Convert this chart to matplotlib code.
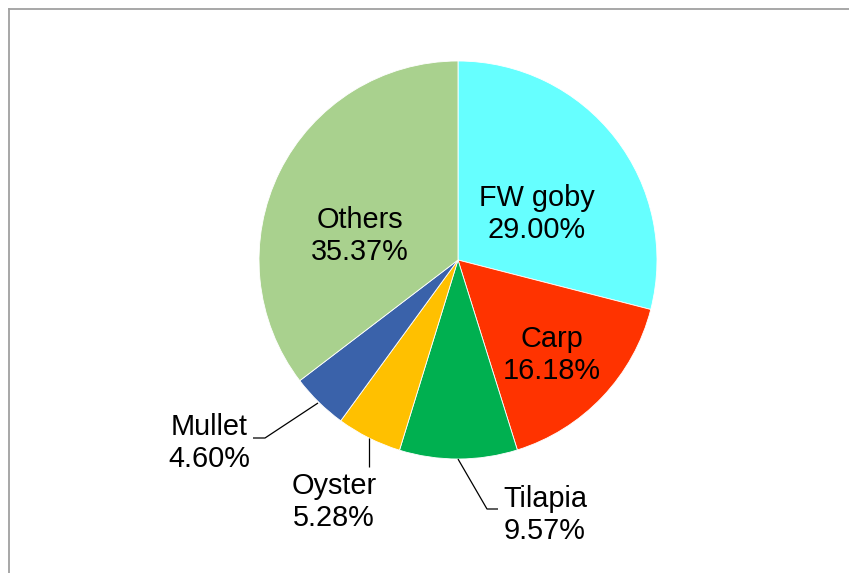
import matplotlib
matplotlib.use("Agg")
import matplotlib.pyplot as plt
from matplotlib.lines import Line2D

categories = ["FW goby", "Carp", "Tilapia", "Oyster", "Mullet", "Others"]
shares = [29.00, 16.18, 9.57, 5.28, 4.60, 35.37]
colors = ["#66FFFF", "#FF3300", "#00B050", "#FFC000", "#3A62AA", "#A9D18E"]

W, H = 849, 573
plt.rcParams['font.family'] = ['Liberation Sans', 'DejaVu Sans']
fig = plt.figure(figsize=(W / 100, H / 100), dpi=100)
ax = fig.add_axes([0, 0, 1, 1])
ax.set_xlim(0, W)
ax.set_ylim(0, H)
ax.set_aspect('equal')
ax.axis('off')

cx, cy, r = 458, H - 260, 199
ax.pie(shares, colors=colors, startangle=90, counterclock=False,
       center=(cx, cy), radius=r, frame=True,
       wedgeprops=dict(edgecolor='white', linewidth=0.6))
ax.set_xlim(0, W)
ax.set_ylim(0, H)
ax.axis('off')

# label positions (pixels, top-origin) and alignment
label_pos = {
    "FW goby": (537, 214, 'center'),
    "Carp": (552, 355, 'center'),
    "Tilapia": (503, 515, 'left'),
    "Oyster": (334, 502, 'center'),
    "Mullet": (250, 443, 'right'),
    "Others": (360, 236, 'center'),
}
fs = 20.8
for name, val in zip(categories, shares):
    x, y, ha = label_pos[name]
    ax.text(x, H - y, f"{name}\n{val:.2f}%", ha=ha, va='center',
            multialignment='center', fontsize=fs, color='black',
            linespacing=1.2)

# leader lines (pixels, top-origin)
leaders = [
    [(318, 403), (265, 438), (253, 438)],
    [(369, 438), (369, 467)],
    [(458, 459), (487, 509), (498, 509)],
]
for pts in leaders:
    xs = [p[0] for p in pts]
    ys = [H - p[1] for p in pts]
    ax.plot(xs, ys, color='black', linewidth=0.9, solid_capstyle='butt')

# chart frame (top and left edges)
fig.add_artist(Line2D([8.5 / W, 1], [1 - 9 / H, 1 - 9 / H], color='#a0a0a0', linewidth=1.3))
fig.add_artist(Line2D([8.5 / W, 8.5 / W], [0, 1 - 9 / H], color='#a0a0a0', linewidth=1.3))

fig.savefig("out.png", dpi=100, facecolor='white')
